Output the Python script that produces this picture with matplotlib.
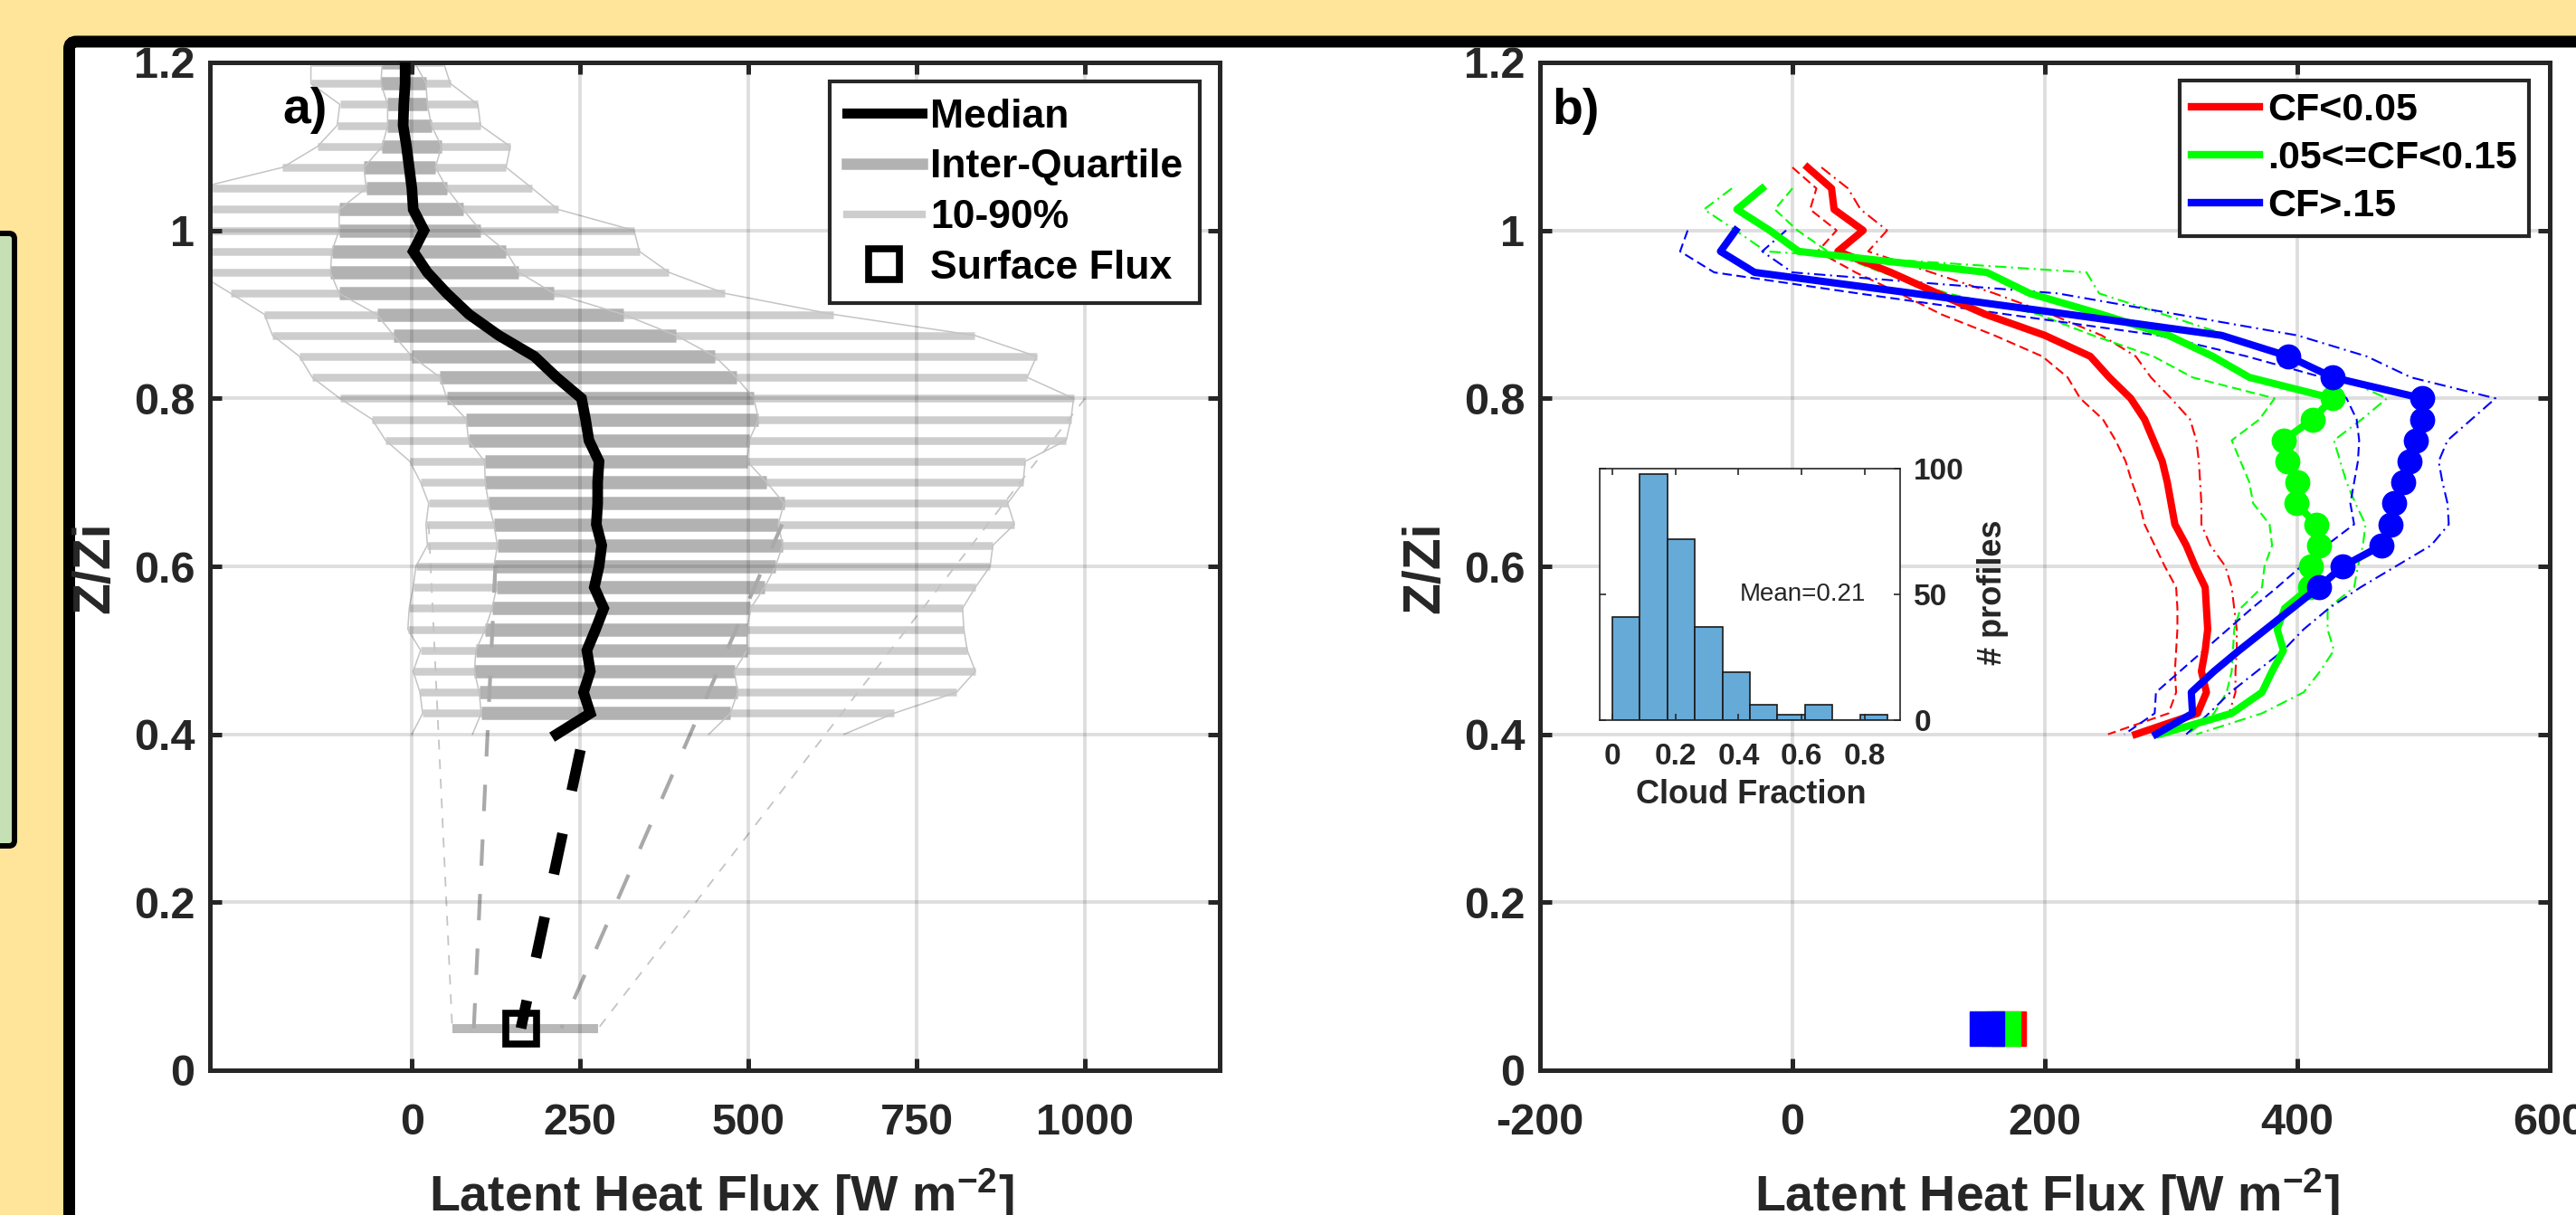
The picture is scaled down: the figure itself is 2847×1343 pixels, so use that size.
import numpy as np
import matplotlib
matplotlib.use('Agg')
import matplotlib.pyplot as plt
from matplotlib.lines import Line2D
from matplotlib.patches import FancyBboxPatch
from matplotlib.transforms import IdentityTransform

plt.rcParams['font.family'] = ['Liberation Sans', 'DejaVu Sans']
plt.rcParams['font.weight'] = 'bold'
plt.rcParams['mathtext.fontset'] = 'custom'
plt.rcParams['mathtext.rm'] = 'Liberation Sans:bold'
plt.rcParams['mathtext.it'] = 'Liberation Sans:bold'
plt.rcParams['mathtext.bf'] = 'Liberation Sans:bold'
plt.rcParams['mathtext.default'] = 'rm'

# ---------------- Panel a data ----------------
z_a = [1.2, 1.175, 1.15, 1.125, 1.1, 1.075, 1.05, 1.025, 1.0, 0.975, 0.95, 0.925,
       0.9, 0.875, 0.85, 0.825, 0.8, 0.775, 0.75, 0.725, 0.7, 0.675, 0.65, 0.625,
       0.6, 0.575, 0.55, 0.525, 0.5, 0.475, 0.45, 0.425]
p10_a = [-150, -150, -107, -111, -140, -192, -320, -330, -340, -340, -320, -269,
         -219, -207, -167, -148, -107, -59, -39, -3, 13, 25, 21, 23,
         6, 2, -4, -6, 13, 2, 12, 16]
p25_a = [-44, -46, -36, -36, -44, -71, -68, -108, -108, -119, -121, -108,
         -52, -27, 0, 42, 52, 81, 84, 108, 109, 114, 122, 127,
         122, 126, 119, 109, 95, 93, 100, 103]
med_a = [-10, -10, -12, -13, -8, -4, 0, 2, 18, 2, 23, 52,
         85, 129, 182, 215, 252, 258, 263, 278, 276, 276, 274, 282,
         278, 271, 285, 273, 260, 265, 255, 265]
p75_a = [4, 21, 23, 29, 44, 35, 52, 76, 102, 140, 159, 211,
         314, 392, 450, 482, 508, 515, 501, 498, 527, 553, 544, 551,
         540, 524, 503, 498, 498, 479, 484, 473]
p90_a = [47, 57, 98, 102, 146, 140, 179, 217, 330, 338, 382, 465,
         626, 836, 928, 914, 983, 979, 972, 911, 908, 885, 895, 863,
         859, 837, 818, 820, 825, 837, 809, 716]
# lowest measured level (envelope only)
z_low_a = 0.4
low_a = [0, 90, 215, 441, 642]          # p10, p25, median, p75, p90
# surface flux statistics
z_sfc = 0.05
sfc_a = [60, 92, 162, 222, 277]          # p10, p25, median, p75, p90
# extrapolation start points (z, flux) for p10, p25, median, p75, p90
ext_z_a = [0.65, 0.6, 0.425, 0.65, 0.8]
ext_x_a = [25, 124, 262, 550, 1000]

# ---------------- Panel b data ----------------
z_red = [1.075, 1.05, 1.025, 1.0, 0.975, 0.95, 0.925, 0.9, 0.875, 0.85, 0.825, 0.8,
         0.775, 0.75, 0.725, 0.7, 0.675, 0.65, 0.625, 0.6, 0.575, 0.55, 0.525, 0.5,
         0.475, 0.45, 0.425, 0.4]
red_med = [12, 31, 33, 56, 36, 78, 115, 153, 200, 236, 251, 268,
           279, 286, 293, 297, 300, 303, 312, 319, 327, 328, 329, 327, 324, 328, 321, 272]
red_lo = [0, 19, 14, 35, 20, 50, 85, 118, 160, 198, 218, 228,
          246, 256, 264, 269, 275, 279, 287, 295, 304, 305, 305, 304, 303, 304, 298, 250]
red_hi = [23, 44, 54, 75, 60, 110, 160, 205, 245, 272, 284, 300,
          315, 320, 322, 323, 324, 324, 331, 343, 348, 350, 352, 352, 351, 351, 346, 285]

z_green = [1.05, 1.025, 1.0, 0.975, 0.95, 0.925, 0.9, 0.875, 0.85, 0.825, 0.8,
           0.775, 0.75, 0.725, 0.7, 0.675, 0.65, 0.625, 0.6, 0.575, 0.55, 0.525, 0.5,
           0.475, 0.45, 0.425, 0.4]
green_med = [-24, -44, -18, 5, 154, 188, 245, 298, 333, 362, 428,
             412, 389, 392, 400, 399, 415, 417, 411, 410, 390, 384, 389, 380, 372, 348, 291]
green_a = [-48, -70, -45, -21, 233, 243, 294, 345, 395, 434, 471,
           451, 429, 434, 439, 446, 454, 452, 448, 445, 424, 424, 429, 418, 405, 372, 320]
green_b = [0, -14, 4, 28, 71, 123, 195, 238, 286, 317, 382,
           370, 348, 355, 362, 365, 378, 380, 374, 372, 355, 350, 349, 348, 344, 334, 313]

z_blue = [1.0, 0.975, 0.95, 0.925, 0.9, 0.875, 0.85, 0.825, 0.8,
          0.775, 0.75, 0.725, 0.7, 0.675, 0.65, 0.625, 0.6, 0.575, 0.55, 0.525, 0.5,
          0.475, 0.45, 0.425, 0.4]
blue_med = [-45, -57, -30, 96, 219, 340, 393, 428, 499,
            499, 494, 489, 484, 477, 474, 467, 436, 417, 396, 375, 354, 334, 316, 317, 288]
blue_lo = [-83, -89, -62, 52, 170, 290, 360, 420, 439,
           447, 449, 448, 445, 442, 445, 423, 403, 384, 364, 345, 326, 307, 288, 287, 263]
blue_hi = [-5, -24, 0, 210, 305, 400, 455, 490, 557,
           538, 519, 512, 515, 519, 520, 506, 478, 450, 425, 405, 389, 368, 347, 330, 312]

green_sig = (0.575, 0.8)     # z-range with significance markers
blue_sig = (0.575, 0.85)
sfc_b = [171, 167, 154]      # red, green, blue surface flux

# histogram of cloud fraction
cf_edges = [0.0, 0.0872, 0.1744, 0.2616, 0.3488, 0.436, 0.5232, 0.6104, 0.6976, 0.7848, 0.872]
cf_counts = [41, 98, 72, 37, 19, 6, 2, 6, 0, 2]

# ---------------- Figure ----------------
W, H = 2847, 1343
fig = plt.figure(figsize=(W / 100, H / 100), dpi=100)
fig.patch.set_facecolor('#FFE599')
PT = 72 / 100.0   # points per pixel

green_box = FancyBboxPatch((-40, H - 935), 56, 935 - 258,
                           boxstyle='round,pad=0,rounding_size=6',
                           transform=IdentityTransform(), fc='#C5E0B4', ec='black',
                           lw=6 * PT, zorder=-5)
frame = FancyBboxPatch((76.5, -100), 3200, H - 46 + 100,
                       boxstyle='round,pad=0,rounding_size=8',
                       transform=IdentityTransform(), fc='white', ec='black',
                       lw=13 * PT, zorder=-5)
fig.patches.extend([green_box, frame])

AX_COL = '#262626'


def style(ax, xt, xtl):
    ax.set_ylim(0, 1.2)
    ax.set_yticks([0, 0.2, 0.4, 0.6, 0.8, 1.0, 1.2])
    ax.set_yticklabels(['0', '0.2', '0.4', '0.6', '0.8', '1', '1.2'])
    ax.set_xticks(xt)
    ax.set_xticklabels(xtl)
    for s in ax.spines.values():
        s.set_linewidth(3.6)
        s.set_color(AX_COL)
    ax.tick_params(direction='in', length=9.4, width=3.6, top=True, right=True,
                   colors=AX_COL, labelsize=35)
    ax.tick_params(axis='x', pad=26)
    ax.tick_params(axis='y', pad=12)
    ax.grid(True, color=AX_COL, alpha=0.15, lw=2.8)
    ax.set_axisbelow(False)


# ---------------- Panel a ----------------
axa = fig.add_axes([232 / W, (H - 1183) / H, 1116 / W, 1114 / H])
axa.set_xlim(-300, 1200)
style(axa, [0, 250, 500, 750, 1000], ['0', '250', '500', '750', '1000'])

LIGHT = '#cdcdcd'
DARK = '#b2b2b2'
axa.hlines(z_a, p10_a, p90_a, colors=LIGHT, lw=8.5 * PT, capstyle='butt', zorder=2)
axa.hlines(z_a, p25_a, p75_a, colors=DARK, lw=14.5 * PT, capstyle='butt', zorder=2.1)

zz = list(z_a) + [z_low_a]
for k, arr in enumerate([p10_a, p25_a, p75_a, p90_a]):
    lowv = low_a[[0, 1, 3, 4][k]]
    axa.plot(list(arr) + [lowv], zz, color='#c4c4c4', lw=1.1, zorder=2.2)

# extrapolations to the surface
for k in [0, 4]:
    axa.plot([ext_x_a[k], sfc_a[k]], [ext_z_a[k], z_sfc], color='#c4c4c4', lw=1.3,
             ls=(0, (6, 6)), zorder=2.2)
for k in [1, 3]:
    axa.plot([ext_x_a[k], sfc_a[k]], [ext_z_a[k], z_sfc], color='#a9a9a9', lw=3.0,
             ls=(0, (7, 7.5)), zorder=2.2)
axa.plot([ext_x_a[2], sfc_a[2]], [ext_z_a[2], z_sfc], color='black', lw=8.5,
         ls=(4.5, (3.9, 4.1)), zorder=3)

axa.hlines([z_sfc], [sfc_a[0]], [sfc_a[4]], colors='#b8b8b8', lw=10 * PT,
           capstyle='butt', zorder=2.1)
axa.plot(list(med_a) + [low_a[2]], zz, color='black', lw=8.5, zorder=3,
         solid_joinstyle='miter')
axa.plot([sfc_a[2]], [z_sfc], marker='s', ms=24, mfc='none', mec='black', mew=5.5,
         ls='none', zorder=4)

axa.text((312 - 232) / 1116, (1183 - 122) / 1114, 'a)', transform=axa.transAxes,
         fontsize=40, ha='left', va='center', color='black')

hand_a = [Line2D([], [], color='black', lw=8),
          Line2D([], [], color=DARK, lw=9),
          Line2D([], [], color=LIGHT, lw=6),
          Line2D([], [], marker='s', ls='none', ms=24, mfc='none', mec='black', mew=5.5)]
leg = axa.legend(hand_a, ['Median', 'Inter-Quartile', '10-90%', 'Surface Flux'],
                 loc='upper right', bbox_to_anchor=(0.980, 0.981), borderaxespad=0,
                 fontsize=32, handlelength=1.87, handletextpad=0.2, borderpad=0.42,
                 labelspacing=0.33, fancybox=False, framealpha=1, edgecolor=AX_COL)
leg.get_frame().set_linewidth(3)

# ---------------- Panel b ----------------
axb = fig.add_axes([1702 / W, (H - 1183) / H, 1116 / W, 1114 / H])
axb.set_xlim(-200, 600)
style(axb, [-200, 0, 200, 400, 600], ['-200', '0', '200', '400', '600'])

series = [('red', z_red, red_med, red_lo, red_hi, None),
          ('#00ff00', z_green, green_med, green_b, green_a, green_sig),
          ('blue', z_blue, blue_med, blue_lo, blue_hi, blue_sig)]
DASH = (0, (5, 2.5))
DASHDOT = (0, (6, 2.5, 1, 2.5))
for col, z, med, lo, hi, sig in series:
    axb.plot(lo, z, color=col, lw=1.5, ls=DASH, zorder=3)
    axb.plot(hi, z, color=col, lw=1.5, ls=DASHDOT, zorder=3)
for col, z, med, lo, hi, sig in series:
    axb.plot(med, z, color=col, lw=5.8, zorder=4)
    if sig is not None:
        zarr = np.array(z)
        m = (zarr >= sig[0] - 1e-9) & (zarr <= sig[1] + 1e-9)
        axb.plot(np.array(med)[m], zarr[m], 'o', color=col, ms=19, zorder=4)
for col, xv in zip(['red', '#00ff00', 'blue'], sfc_b):
    axb.plot([xv], [z_sfc], marker='s', color=col, ms=28, mew=1, ls='none', zorder=4)

axb.text((1715 - 1702) / 1116, (1183 - 123) / 1114, 'b)', transform=axb.transAxes,
         fontsize=40, ha='left', va='center', color='black')

hand_b = [Line2D([], [], color='red', lw=6),
          Line2D([], [], color='#00ff00', lw=6),
          Line2D([], [], color='blue', lw=6)]
legb = axb.legend(hand_b, ['CF<0.05', '.05<=CF<0.15', 'CF>.15'],
                  loc='upper right', bbox_to_anchor=(0.979, 0.982), borderaxespad=0,
                  fontsize=31, handlelength=1.75, handletextpad=0.2, borderpad=0.3,
                  labelspacing=0.3, fancybox=False, framealpha=1, edgecolor=AX_COL)
legb.get_frame().set_linewidth(3)

# ---------------- Inset histogram ----------------
axi = fig.add_axes([1768 / W, (H - 796) / H, 332 / W, 278 / H])
widths = np.diff(cf_edges)
axi.bar(cf_edges[:-1], cf_counts, width=widths, align='edge', color='#66AAD8',
        edgecolor='#1a1a1a', lw=1.2)
axi.set_xlim(-0.04, 0.912)
axi.set_ylim(0, 100)
axi.set_xticks([0, 0.2, 0.4, 0.6, 0.8])
axi.set_xticklabels(['0', '0.2', '0.4', '0.6', '0.8'])
axi.set_yticks([0, 50, 100])
axi.yaxis.tick_right()
for s in axi.spines.values():
    s.set_linewidth(1.2)
    s.set_color(AX_COL)
axi.tick_params(direction='in', length=5, width=1.2, top=True, left=True, right=True,
                labelleft=False, labelright=True, colors=AX_COL, labelsize=24)
axi.tick_params(axis='x', pad=18)
axi.tick_params(axis='y', pad=11)
axi.text(0.405, 50, 'Mean=0.21', fontsize=20, fontweight='normal', ha='left',
         va='center', color=AX_COL)

# ---------------- Labels ----------------
fig.text(1935 / W, 1 - 878 / H, 'Cloud Fraction', fontsize=26, ha='center', va='center',
         color=AX_COL)
fig.text(2203 / W, 1 - 655 / H, '# profiles', fontsize=26, rotation=90, ha='center',
         va='center', color=AX_COL)
for xc in [105, 1575]:
    fig.text(xc / W, 1 - 627 / H, 'Z/Zi', fontsize=41, rotation=90, ha='center',
             va='center', color=AX_COL)
for xc in [797, 2262]:
    fig.text(xc / W, 4 / H, 'Latent Heat Flux [W m$^{-2}$]', fontsize=40, ha='center',
             va='baseline', color=AX_COL)

fig.savefig('out.png', dpi=100, facecolor=fig.get_facecolor())
